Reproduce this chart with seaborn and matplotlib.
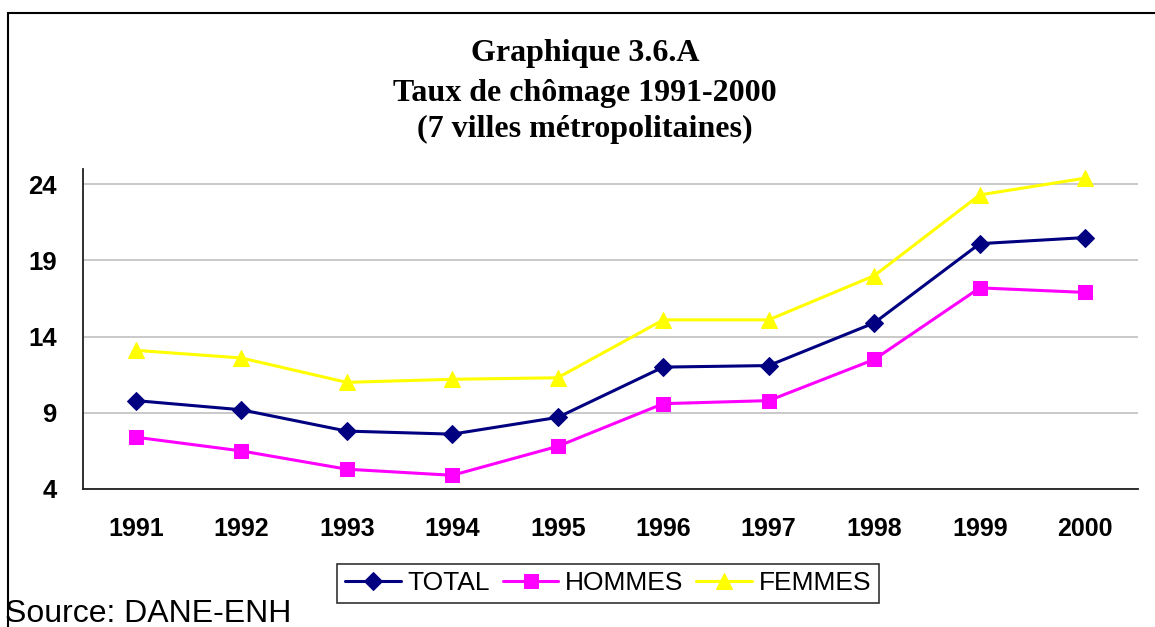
import matplotlib
matplotlib.use("Agg")
import matplotlib.pyplot as plt
from matplotlib.patches import Rectangle
import seaborn as sns
import pandas as pd
import numpy as np

years = [1991, 1992, 1993, 1994, 1995, 1996, 1997, 1998, 1999, 2000]
total = [9.8, 9.2, 7.8, 7.6, 8.7, 12.0, 12.1, 14.9, 20.1, 20.5]
hommes = [7.4, 6.5, 5.3, 4.9, 6.8, 9.6, 9.8, 12.5, 17.2, 16.9]
femmes = [13.1, 12.6, 11.0, 11.2, 11.3, 15.1, 15.1, 18.0, 23.3, 24.4]
series_names = ["TOTAL", "HOMMES", "FEMMES"]
y_ticks = [4, 9, 14, 19, 24]
title_lines = ["Graphique 3.6.A", "Taux de chômage 1991-2000", "(7 villes métropolitaines)"]
source_text = "Source: DANE-ENH"

df = pd.DataFrame({
    "year": years * 3,
    "value": total + hommes + femmes,
    "serie": [series_names[0]] * 10 + [series_names[1]] * 10 + [series_names[2]] * 10,
})

sns.set_style("white")
plt.rcParams["font.family"] = ["Liberation Sans", "DejaVu Sans"]
plt.rcParams["text.color"] = "black"
plt.rcParams["xtick.color"] = "black"
plt.rcParams["ytick.color"] = "black"

W, H = 1155, 627
fig = plt.figure(figsize=(W / 100, H / 100), dpi=100)
ax = fig.add_axes([83 / W, 1 - 489 / H, (1138 - 83) / W, (489 - 169) / H])

palette = {"TOTAL": "#000080", "HOMMES": "#FF00FF", "FEMMES": "#FFFF00"}
markers = {"TOTAL": "D", "HOMMES": "s", "FEMMES": "^"}
sizes = {"TOTAL": 9.5, "HOMMES": 10, "FEMMES": 11}
for name in series_names:
    sub = df[df["serie"] == name]
    sns.lineplot(data=sub, x="year", y="value", ax=ax, color=palette[name],
                 marker=markers[name], markersize=sizes[name], markeredgecolor=palette[name],
                 linewidth=2.2, label=name, legend=False, zorder=3)

ax.set_xlim(1990.5, 2000.5)
ax.set_ylim(4, 25)
ax.set_yticks(y_ticks)
ax.set_yticklabels([str(t) for t in y_ticks], fontsize=18.5, fontweight="bold")
ax.set_xticks(np.arange(1990.5, 2001.5, 1.0))
ax.set_xticklabels([])
ax.set_xticks(years, minor=True)
ax.set_xticklabels([str(y) for y in years], minor=True, fontsize=18, fontweight="bold")
ax.tick_params(axis="x", which="minor", length=0, pad=20)
ax.tick_params(axis="x", which="major", length=8, width=1.2, color="#404040", direction="out")
ax.tick_params(axis="y", length=8, width=1.2, color="#404040", direction="out", pad=11)
ax.yaxis.grid(True, color="#c0c0c0", linewidth=1.2)
ax.xaxis.grid(False)
ax.set_axisbelow(True)
ax.set_xlabel("")
ax.set_ylabel("")
for s in ["top", "right"]:
    ax.spines[s].set_visible(False)
for s in ["left", "bottom"]:
    ax.spines[s].set_color("#202020")
    ax.spines[s].set_linewidth(1.3)

# Title
cx = 585 / W
for line, base in zip(title_lines, [61, 101, 137]):
    fig.text(cx, 1 - base / H, line, ha="center", va="baseline",
             fontsize=23, fontweight="bold", family="Liberation Serif", color="black")

handles, labels = ax.get_legend_handles_labels()
leg = fig.legend(handles, labels, loc="center", bbox_to_anchor=(608 / W, 1 - 583.5 / H),
                 ncol=3, frameon=True, fancybox=False, edgecolor="black", fontsize=19,
                 handlelength=2.1, handletextpad=0.25, columnspacing=0.5, borderpad=0.3,
                 borderaxespad=0)
leg.get_frame().set_linewidth(1.2)

fig.text(5 / W, 1 - 622 / H, source_text, ha="left", va="baseline", fontsize=23, color="black")

fig.add_artist(Rectangle((8 / W, -0.1), 1.2, (1 - 12.5 / H) + 0.1, transform=fig.transFigure,
                         fill=False, edgecolor="black", linewidth=1.5))

fig.savefig("out.png", dpi=100)
